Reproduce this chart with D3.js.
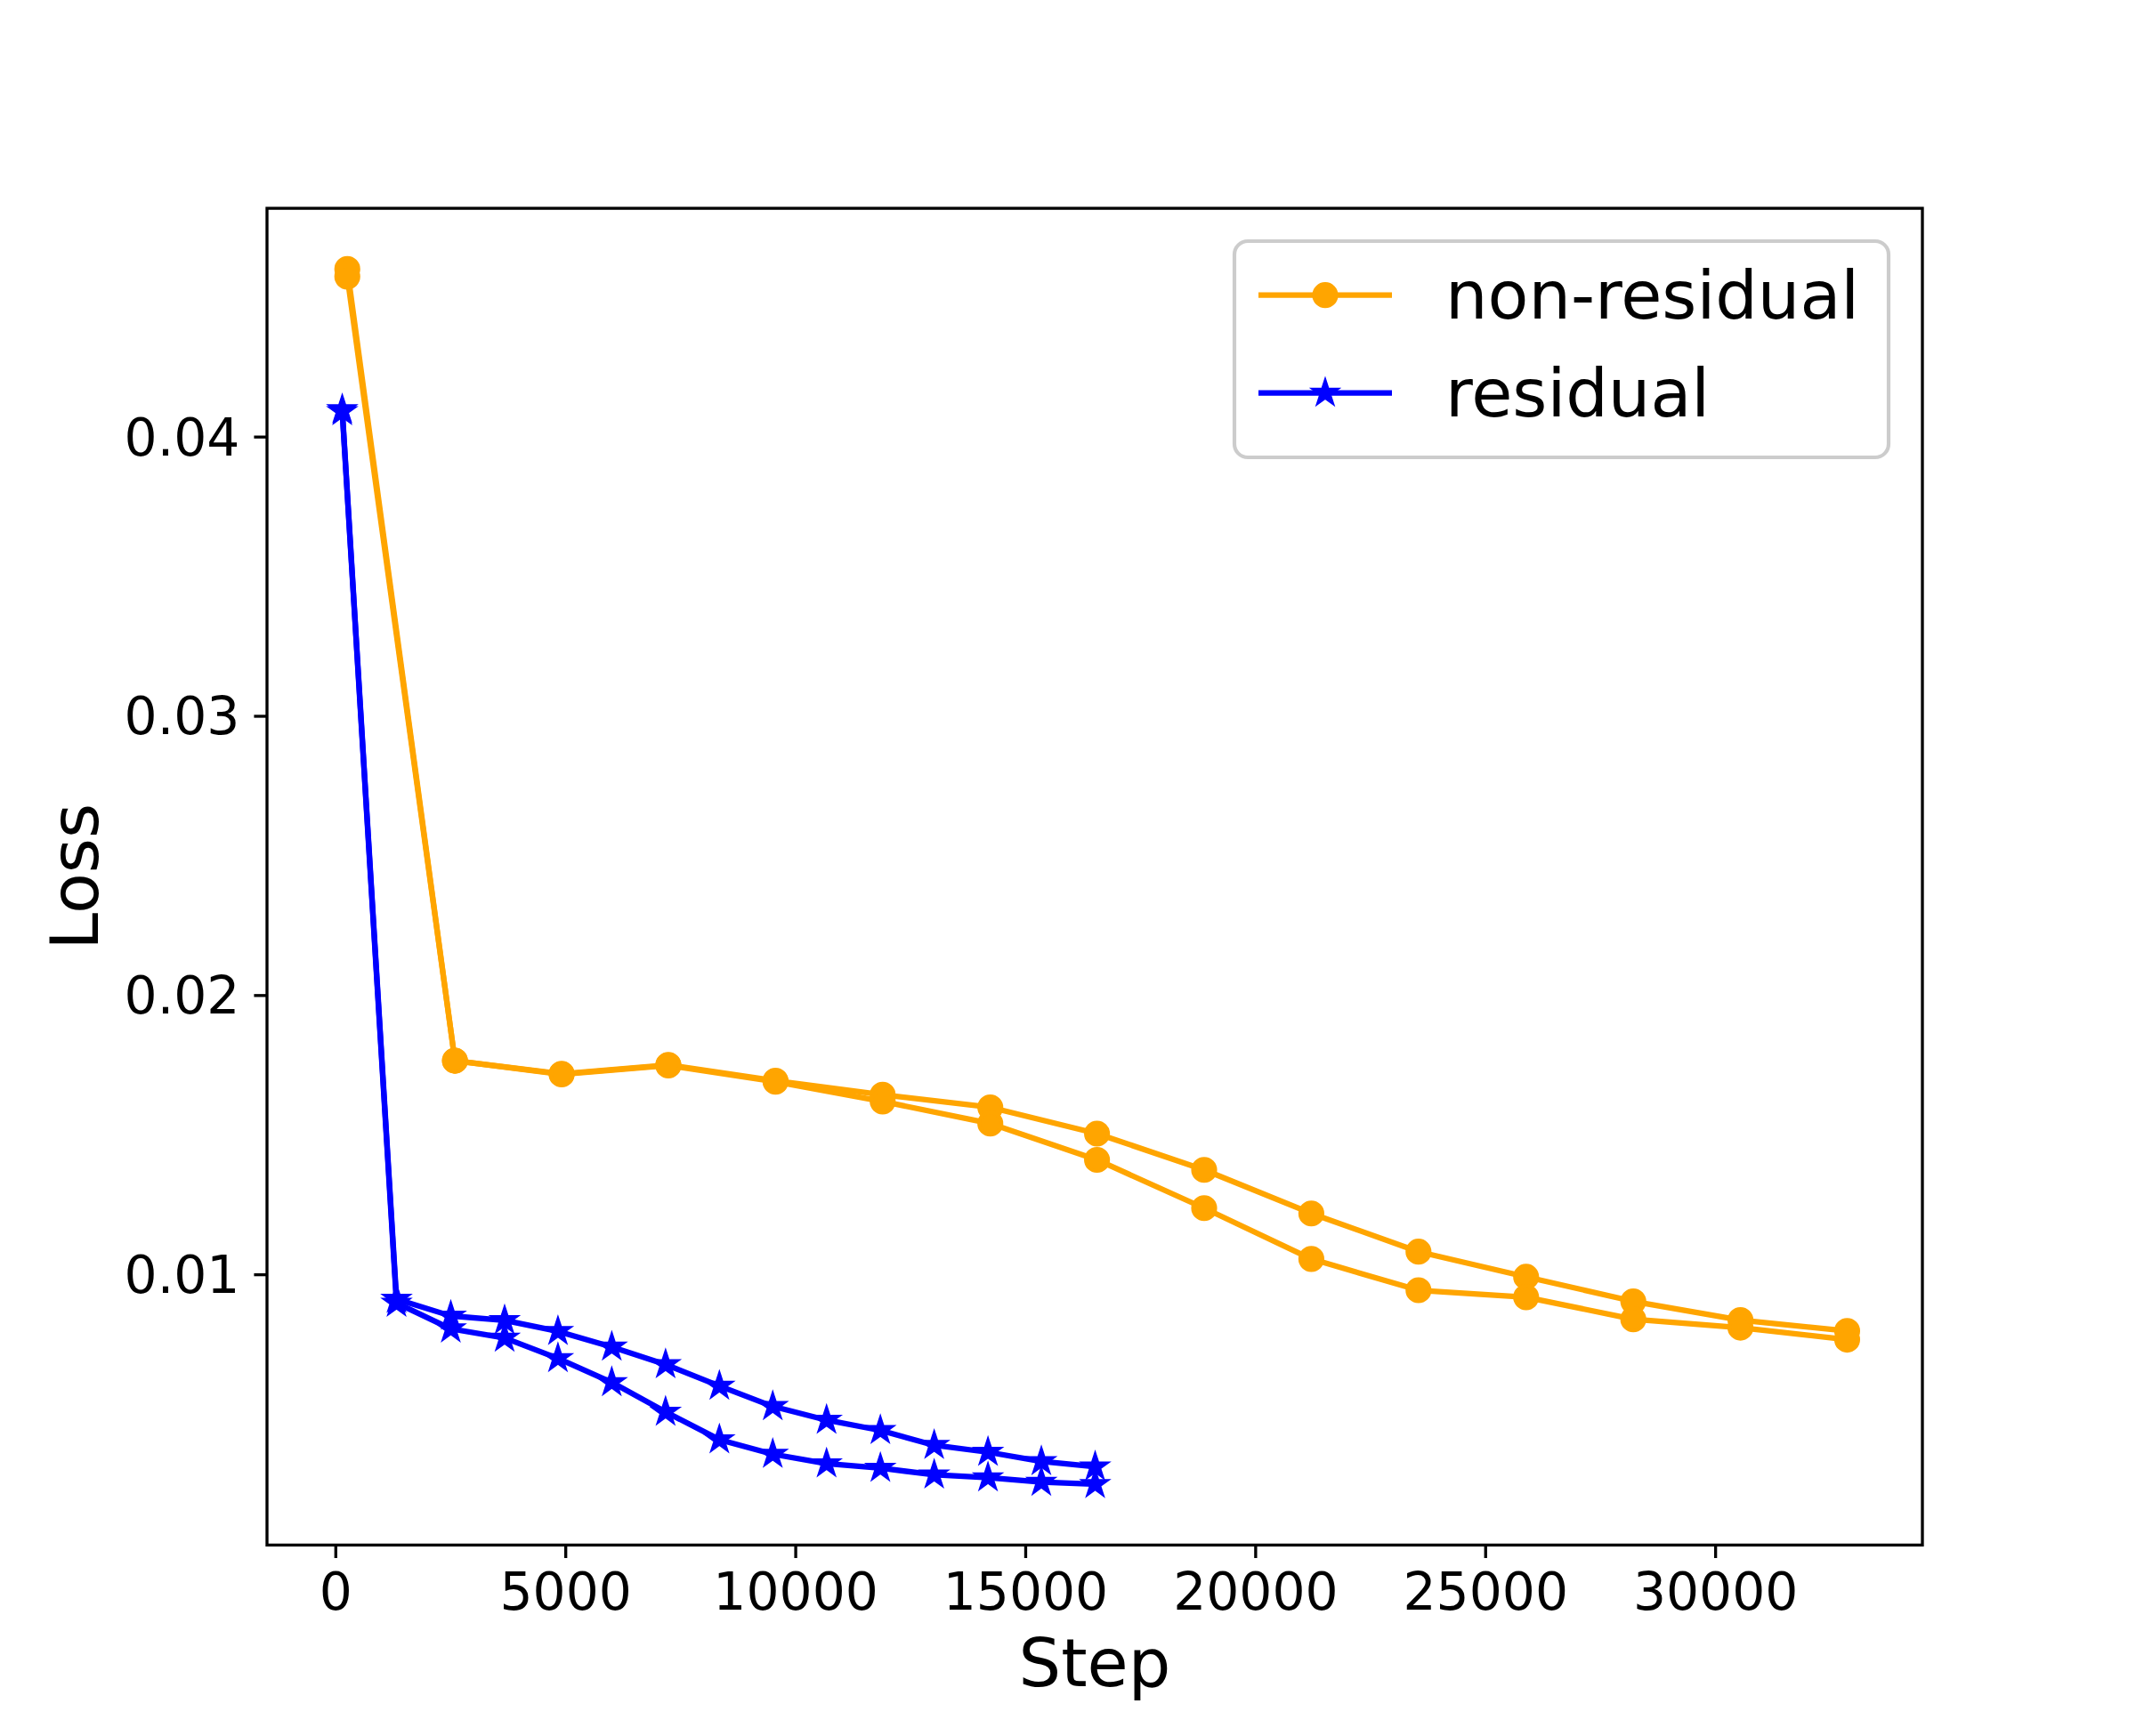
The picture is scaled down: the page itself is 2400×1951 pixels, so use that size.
<!DOCTYPE html>
<html>
<head>
<meta charset="utf-8">
<script src="https://cdn.jsdelivr.net/npm/d3@7"></script>
<style>
  html, body { margin: 0; padding: 0; background: #fff; }
  svg { display: block; font-family: "DejaVu Sans", sans-serif; }
</style>
</head>
<body>
<svg id="chart" width="2400" height="1951"></svg>
<script>
// ---- data ----
const nonResSteps = [260, 2600, 4920, 7240, 9570, 11900, 14240, 16560, 18890, 21220, 23550, 25890, 28220, 30550, 32870];
const nonResRunA  = [0.04600, 0.01765, 0.01718, 0.01750, 0.01693, 0.01643, 0.01598, 0.01504, 0.01374, 0.01218, 0.01081, 0.00991, 0.00903, 0.00836, 0.00797];
const nonResRunB  = [0.04573, 0.01765, 0.01716, 0.01748, 0.01690, 0.01619, 0.01540, 0.01410, 0.01237, 0.01055, 0.00943, 0.00918, 0.00839, 0.00809, 0.00766];

const resSteps = [150, 1330, 2510, 3680, 4840, 6010, 7180, 8350, 9510, 10680, 11850, 13020, 14190, 15350, 16520];
const resRunA  = [0.04097, 0.00911, 0.00851, 0.00835, 0.00796, 0.00740, 0.00677, 0.00600, 0.00527, 0.00478, 0.00441, 0.00388, 0.00363, 0.00330, 0.00311];
const resRunB  = [0.04090, 0.00897, 0.00805, 0.00772, 0.00699, 0.00613, 0.00507, 0.00408, 0.00356, 0.00322, 0.00306, 0.00282, 0.00272, 0.00256, 0.00248];

const xTicks = [0, 5000, 10000, 15000, 20000, 25000, 30000];
const yTicks = [0.01, 0.02, 0.03, 0.04];
const seriesNames = ["non-residual", "residual"];
const seriesColors = ["orange", "blue"];

(function () {
// ---- layout ----
const plotL = 300, plotR = 2160, plotT = 234.1, plotB = 1736.4;
const PT = 300 / 72;               // px per point
const lw = 1.5 * PT, spineW = 0.8 * PT, tickLen = 3.5 * PT;
const ms = 6 * PT, mew = 1.0 * PT;

const svg = d3.select("#chart");

const allX = nonResSteps.concat(resSteps);
const allY = nonResRunA.concat(nonResRunB, resRunA, resRunB);
const [x0, x1] = d3.extent(allX), [y0, y1] = d3.extent(allY);
const mx = (x1 - x0) * 0.05, my = (y1 - y0) * 0.05;

const x = d3.scaleLinear().domain([x0 - mx, x1 + mx]).range([plotL, plotR]);
const y = d3.scaleLinear().domain([y0 - my, y1 + my]).range([plotB, plotT]);

// ---- axes ----
const xAxis = svg.append("g").attr("transform", `translate(0,${plotB})`)
  .call(d3.axisBottom(x).tickValues(xTicks).tickFormat(d3.format("d")).tickSize(tickLen).tickPadding(16.5));
const yAxis = svg.append("g").attr("transform", `translate(${plotL},0)`)
  .call(d3.axisLeft(y).tickValues(yTicks).tickFormat(d3.format(".2f")).tickSize(tickLen).tickPadding(16));
[xAxis, yAxis].forEach(g => {
  g.select(".domain").remove();
  g.selectAll(".tick line").attr("stroke", "#000").attr("stroke-width", spineW);
  g.selectAll(".tick text").attr("fill", "#000").style("font-size", "58.3px").style("font-family", "DejaVu Sans");
});
yAxis.selectAll(".tick text").attr("dy", "0.35em");

// ---- lines & markers ----
const starPath = (r) => {
  const ri = r * 0.381966, pts = [];
  for (let i = 0; i < 10; i++) {
    const a = -Math.PI / 2 + i * Math.PI / 5;
    const rr = i % 2 === 0 ? r : ri;
    pts.push([rr * Math.cos(a), rr * Math.sin(a)]);
  }
  return "M" + pts.map(p => p[0].toFixed(2) + "," + p[1].toFixed(2)).join("L") + "Z";
};

const line = d3.line().x(d => x(d[0])).y(d => y(d[1]));
const plot = svg.append("g");

function drawSeries(steps, vals, color, marker) {
  const data = steps.map((s, i) => [s, vals[i]]);
  plot.append("path").datum(data).attr("d", line)
    .attr("fill", "none").attr("stroke", color).attr("stroke-width", lw)
    .attr("stroke-linejoin", "round").attr("stroke-linecap", "square");
  const g = plot.append("g");
  if (marker === "circle") {
    g.selectAll("circle").data(data).join("circle")
      .attr("cx", d => x(d[0])).attr("cy", d => y(d[1])).attr("r", ms / 2)
      .attr("fill", color).attr("stroke", color).attr("stroke-width", mew);
  } else {
    g.selectAll("path").data(data).join("path")
      .attr("d", starPath(ms / 2))
      .attr("transform", d => `translate(${x(d[0])},${y(d[1])})`)
      .attr("fill", color).attr("stroke", color).attr("stroke-width", mew).attr("stroke-linejoin", "miter");
  }
}
drawSeries(nonResSteps, nonResRunA, seriesColors[0], "circle");
drawSeries(resSteps, resRunA, seriesColors[1], "star");
drawSeries(nonResSteps, nonResRunB, seriesColors[0], "circle");
drawSeries(resSteps, resRunB, seriesColors[1], "star");

// ---- spines ----
svg.append("rect").attr("x", plotL).attr("y", plotT).attr("width", plotR - plotL).attr("height", plotB - plotT)
  .attr("fill", "none").attr("stroke", "#000").attr("stroke-width", spineW);

// ---- axis labels ----
svg.append("text").attr("x", (plotL + plotR) / 2).attr("y", 1895).attr("text-anchor", "middle")
  .style("font-size", "75px").text("Step");
svg.append("text").attr("transform", `translate(110,${(plotT + plotB) / 2}) rotate(-90)`).attr("text-anchor", "middle")
  .style("font-size", "75px").text("Loss");

// ---- legend ----
const leg = svg.append("g");
leg.append("rect").attr("x", 1387).attr("y", 271).attr("width", 735).attr("height", 243).attr("rx", 15).attr("ry", 15)
  .attr("fill", "#fff").attr("fill-opacity", 0.8).attr("stroke", "#cccccc").attr("stroke-width", PT);
const legRows = [331.7, 441.7];
seriesNames.forEach((name, i) => {
  const ly = legRows[i];
  leg.append("line").attr("x1", 1414).attr("x2", 1564).attr("y1", ly).attr("y2", ly)
    .attr("stroke", seriesColors[i]).attr("stroke-width", lw);
  if (i === 0) {
    leg.append("circle").attr("cx", 1489).attr("cy", ly).attr("r", ms / 2)
      .attr("fill", seriesColors[i]).attr("stroke", seriesColors[i]).attr("stroke-width", mew);
  } else {
    leg.append("path").attr("d", starPath(ms / 2)).attr("transform", `translate(1489,${ly})`)
      .attr("fill", seriesColors[i]).attr("stroke", seriesColors[i]).attr("stroke-width", mew);
  }
  leg.append("text").attr("x", 1624).attr("y", ly + 26.5).style("font-size", "75px").text(name);
});
})();
</script>
</body>
</html>
